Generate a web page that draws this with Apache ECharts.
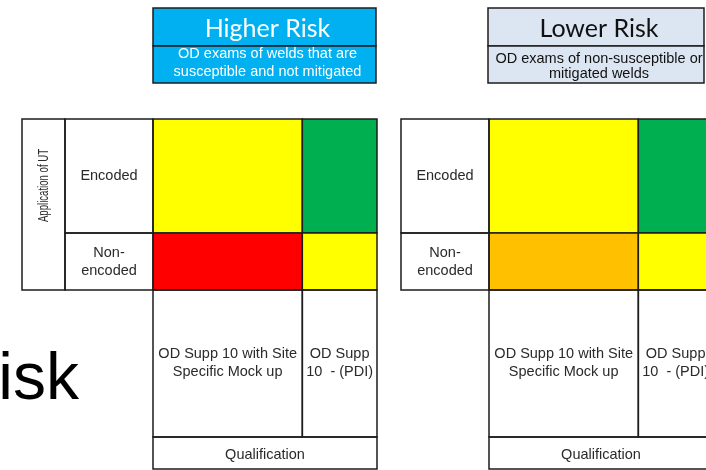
<!DOCTYPE html>
<html><head><meta charset="utf-8">
<script src="https://cdn.jsdelivr.net/npm/echarts@6/dist/echarts.min.js"></script>
<style>html,body{margin:0;padding:0;background:#fff}#c{width:706px;height:470px}</style>
</head><body><div id="c"></div>
<script>
// ---------------- data ----------------
const rowCategories = ['Encoded', 'Non-\nencoded'];
const columnCategories = ['OD Supp 10 with Site\nSpecific Mock up', 'OD Supp\n10  - (PDI)'];
const higherRiskCells = [['yellow', 'green'], ['red', 'yellow']];   // [row][column]
const lowerRiskCells = [['yellow', 'green'], ['orange', 'yellow']];
const panelTitles = ['Higher Risk', 'Lower Risk'];
const panelSubtitles = ['OD exams of welds that are\nsusceptible and not mitigated', 'OD exams of non-susceptible or\nmitigated welds'];
const rowAxisName = 'Application of UT';
const columnAxisName = 'Qualification';
const backgroundWord = 'isk';

// ---------------- layout / style ----------------
const levelColors = { yellow: '#FFFF00', green: '#00B050', red: '#FF0000', orange: '#FFC000' };
const rowSpan = [2, 1];
const colSpan = [2, 1];
const rowBounds = [0]; rowSpan.forEach(s => rowBounds.push(rowBounds[rowBounds.length - 1] + s));
const colBounds = [0]; colSpan.forEach(s => colBounds.push(colBounds[colBounds.length - 1] + s));
const AXMAX = 3;
const LINE = '#1c1c1c';
const TXT = '#2a2a2a';
const FONT = '"Liberation Sans", Arial, sans-serif';
const FS = 14.5;
const panels = [
  { cells: higherRiskCells, grid: { left: 153, top: 119, width: 224, height: 171 }, headerLeft: 153, headerWidth: 223,
    headerFill: '#00B0F0', headerColor: '#FFFFFF', subLine: 18, subCenter: 63, axisColumn: true },
  { cells: lowerRiskCells, grid: { left: 489, top: 119, width: 224, height: 171 }, headerLeft: 488, headerWidth: 216,
    headerFill: '#DCE6F2', headerColor: '#111111', subLine: 15, subCenter: 66, axisColumn: false }
];
const labelColW = 88, axisColW = 43, bottomH = 147, qualH = 32;
const headerTop = 8, headerMid = 46, headerBottom = 83;

const centers = arr => arr.slice(0, -1).map((b, i) => (b + arr[i + 1]) / 2);
const rowCenters = centers(rowBounds), colCenters = centers(colBounds);

const grids = [], xAxes = [], yAxes = [], series = [];
panels.forEach((p, gi) => {
  grids.push(Object.assign({ containLabel: false, outerBoundsMode: 'none' }, p.grid));
  xAxes.push({
    type: 'value', gridIndex: gi, min: 0, max: AXMAX, interval: 0.5,
    axisLine: { show: false }, axisTick: { show: false }, splitLine: { show: false },
    axisLabel: {
      margin: 73, verticalAlign: 'middle', fontFamily: FONT, fontSize: FS, lineHeight: 18, color: TXT,
      formatter: v => { const i = colCenters.indexOf(v); return i >= 0 ? columnCategories[i] : ''; }
    },
    name: columnAxisName, nameLocation: 'middle', nameGap: 157,
    nameTextStyle: { fontFamily: FONT, fontSize: FS, color: TXT }
  });
  yAxes.push({
    type: 'value', gridIndex: gi, min: 0, max: AXMAX, interval: 0.5, inverse: true,
    axisLine: { show: false }, axisTick: { show: false }, splitLine: { show: false },
    axisLabel: {
      margin: labelColW / 2, align: 'center', fontFamily: FONT, fontSize: FS, lineHeight: 18, color: TXT,
      formatter: v => { const i = rowCenters.indexOf(v); return i >= 0 ? rowCategories[i] : ''; }
    }
  });
  // coloured risk cells
  const data = [];
  p.cells.forEach((row, r) => row.forEach((lvl, c) => {
    data.push({ value: [colBounds[c], colBounds[c + 1], rowBounds[r], rowBounds[r + 1]], itemStyle: { color: levelColors[lvl] } });
  }));
  series.push({
    type: 'custom', xAxisIndex: gi, yAxisIndex: gi, encode: { x: [0, 1], y: [2, 3] }, silent: true, clip: false,
    renderItem: (params, api) => {
      const a = api.coord([api.value(0), api.value(2)]);
      const b = api.coord([api.value(1), api.value(3)]);
      return { type: 'rect', shape: { x: a[0], y: a[1], width: b[0] - a[0], height: b[1] - a[1] },
        style: { fill: api.visual('color'), stroke: LINE, lineWidth: 1.5 }, z2: 5 };
    },
    data, z: 3
  });
  // table frame, headers
  series.push({
    type: 'custom', xAxisIndex: gi, yAxisIndex: gi, silent: true, clip: false, z: 4,
    data: [[0, 0]],
    renderItem: (params, api) => {
      const o = api.coord([0, 0]), e = api.coord([AXMAX, AXMAX]);
      const ch = [];
      const rect = (x, y, w, h, fill) => ch.push({ type: 'rect', shape: { x, y, width: w, height: h },
        style: { fill: fill || 'none', stroke: LINE, lineWidth: 1.5 } });
      for (let r = 0; r < rowSpan.length; r++) {
        const y0 = api.coord([0, rowBounds[r]])[1], y1 = api.coord([0, rowBounds[r + 1]])[1];
        rect(o[0] - labelColW, y0, labelColW, y1 - y0);
      }
      if (p.axisColumn) {
        rect(o[0] - labelColW - axisColW, o[1], axisColW, e[1] - o[1]);
        ch.push({ type: 'text', x: o[0] - labelColW - axisColW / 2, y: o[1] + (e[1] - o[1]) / 2 - 19,
          rotation: Math.PI / 2, scaleX: 0.64, scaleY: 1.0,
          style: { text: rowAxisName, align: 'center', verticalAlign: 'middle', font: '15px ' + FONT, fill: TXT } });
      }
      for (let c = 0; c < colSpan.length; c++) {
        const x0 = api.coord([colBounds[c], 0])[0], x1 = api.coord([colBounds[c + 1], 0])[0];
        rect(x0, e[1], x1 - x0, bottomH);
      }
      rect(o[0], e[1] + bottomH, e[0] - o[0], qualH);
      // header box
      const hx = p.headerLeft, hw = p.headerWidth;
      rect(hx, headerTop, hw, headerMid - headerTop, p.headerFill);
      rect(hx, headerMid, hw, headerBottom - headerMid, p.headerFill);
      ch.push({ type: 'text', style: { text: panelTitles[gi], x: hx + hw / 2 + 3, y: 29, align: 'center', verticalAlign: 'middle',
        font: '25px Lato, "Open Sans", sans-serif', fill: p.headerColor } });
      ch.push({ type: 'text', style: { text: panelSubtitles[gi], x: hx + hw / 2 + 3, y: p.subCenter, align: 'center', verticalAlign: 'middle',
        font: FS + 'px ' + FONT, lineHeight: p.subLine, fill: p.headerColor } });
      return { type: 'group', children: ch };
    }
  });
});

const chart = echarts.init(document.getElementById('c'), null, { renderer: 'canvas' });
chart.setOption({
  backgroundColor: '#ffffff',
  animation: false,
  grid: grids, xAxis: xAxes, yAxis: yAxes, series,
  graphic: [{ type: 'text', right: 627, top: 348, style: { text: backgroundWord, font: '66px ' + FONT, fill: '#000' } }]
});
</script></body></html>
